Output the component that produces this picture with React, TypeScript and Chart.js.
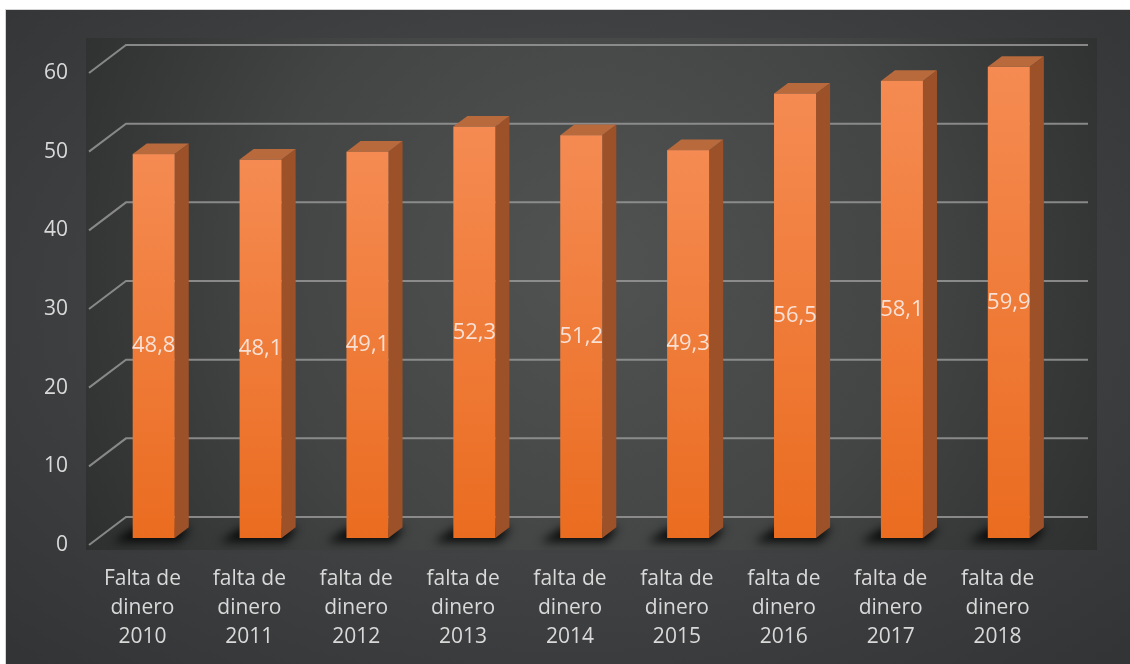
import React, { useEffect, useRef } from "react";
import { Chart, registerables } from "chart.js";

Chart.register(...registerables);

const categories: string[][] = [
  ["Falta de", "dinero", "2010"],
  ["falta de", "dinero", "2011"],
  ["falta de", "dinero", "2012"],
  ["falta de", "dinero", "2013"],
  ["falta de", "dinero", "2014"],
  ["falta de", "dinero", "2015"],
  ["falta de", "dinero", "2016"],
  ["falta de", "dinero", "2017"],
  ["falta de", "dinero", "2018"],
];
const values: number[] = [48.8, 48.1, 49.1, 52.3, 51.2, 49.3, 56.5, 58.1, 59.9];
const yTicks: number[] = [0, 10, 20, 30, 40, 50, 60];

const FONT = "'Open Sans', 'Noto Sans', sans-serif";
const DEPTH_X = 37;
const DEPTH_Y = -28;
const BAR_START = 0.25;
const BAR_DEPTH = 0.38;
const BAR_SHIFT_X = 2;

const threeD = {
  id: "threeD",
  beforeDatasetsDraw(chart: any) {
    const { ctx, chartArea } = chart;
    const y = chart.scales.y;
    const { left, right, top, bottom } = chartArea;
    ctx.save();
    // back panel
    const px0 = left - 3, py0 = top - 35, px1 = right + 46, py1 = bottom + 5;
    const cx = (px0 + px1) / 2, cy = (py0 + py1) / 2 - 30;
    const g = ctx.createRadialGradient(cx, cy, 20, cx, cy, (px1 - px0) * 0.62);
    g.addColorStop(0, "#505252");
    g.addColorStop(0.5, "#434545");
    g.addColorStop(1, "#2a2b2b");
    ctx.fillStyle = g;
    ctx.fillRect(px0, py0, px1 - px0, py1 - py0);

    // gridlines
    ctx.strokeStyle = "rgba(150,150,150,0.85)";
    ctx.lineWidth = 2;
    yTicks.forEach((v) => {
      const yf = y.getPixelForValue(v);
      ctx.beginPath();
      ctx.moveTo(left, yf);
      ctx.lineTo(left + DEPTH_X, yf + DEPTH_Y);
      ctx.lineTo(right + DEPTH_X, yf + DEPTH_Y);
      ctx.stroke();
    });

    // floor shadows
    const meta = chart.getDatasetMeta(0);
    const sx = DEPTH_X * BAR_START + BAR_SHIFT_X, sy = DEPTH_Y * BAR_START;
    const bx = DEPTH_X * BAR_DEPTH, by = DEPTH_Y * BAR_DEPTH;
    ctx.filter = "blur(5px)";
    ctx.fillStyle = "rgba(0,0,0,0.85)";
    meta.data.forEach((el: any) => {
      const p = el.getProps(["x", "base", "width"], true);
      const fl = p.x - p.width / 2 + sx;
      const fr = p.x + p.width / 2 + sx;
      const fb = p.base + sy;
      ctx.beginPath();
      ctx.moveTo(fl - 20, fb + 4);
      ctx.lineTo(fr + 4, fb + 4);
      ctx.lineTo(fr + bx + 2, fb + by);
      ctx.lineTo(fl + bx - 12, fb + by);
      ctx.closePath();
      ctx.fill();
    });
    ctx.filter = "none";
    ctx.restore();
  },
  afterDatasetsDraw(chart: any) {
    const { ctx } = chart;
    const meta = chart.getDatasetMeta(0);
    const sx = DEPTH_X * BAR_START + BAR_SHIFT_X, sy = DEPTH_Y * BAR_START;
    const bx = DEPTH_X * BAR_DEPTH, by = DEPTH_Y * BAR_DEPTH;
    ctx.save();
    meta.data.forEach((el: any, i: number) => {
      const p = el.getProps(["x", "y", "base", "width"], true);
      const fl = p.x - p.width / 2 + sx;
      const fr = p.x + p.width / 2 + sx;
      const ft = p.y + sy;
      const fb = p.base + sy;
      // side face
      ctx.fillStyle = "#9c5129";
      ctx.beginPath();
      ctx.moveTo(fr, ft);
      ctx.lineTo(fr + bx, ft + by);
      ctx.lineTo(fr + bx, fb + by);
      ctx.lineTo(fr, fb);
      ctx.closePath();
      ctx.fill();
      // top face
      ctx.fillStyle = "#b86a3c";
      ctx.beginPath();
      ctx.moveTo(fl, ft);
      ctx.lineTo(fl + bx, ft + by);
      ctx.lineTo(fr + bx, ft + by);
      ctx.lineTo(fr, ft);
      ctx.closePath();
      ctx.fill();
      // front face
      const g = ctx.createLinearGradient(0, ft, 0, fb);
      g.addColorStop(0, "#f58b52");
      g.addColorStop(1, "#ea6c20");
      ctx.fillStyle = g;
      ctx.fillRect(fl, ft, fr - fl, fb - ft);
      // label
      ctx.fillStyle = "rgba(248,232,226,0.92)";
      ctx.font = `22px ${FONT}`;
      ctx.textAlign = "center";
      ctx.textBaseline = "middle";
      ctx.fillText(values[i].toFixed(1).replace(".", ","), (fl + fr) / 2, (ft + fb) / 2);
    });
    ctx.restore();
  },
};

function BarChart() {
  const ref = useRef<HTMLCanvasElement | null>(null);
  useEffect(() => {
    if (!ref.current) return;
    const chart = new Chart(ref.current, {
      type: "bar",
      data: {
        labels: categories,
        datasets: [
          {
            data: values,
            backgroundColor: "rgba(0,0,0,0)",
            borderWidth: 0,
            barPercentage: 0.393,
            categoryPercentage: 1,
          },
        ],
      },
      options: {
        responsive: false,
        animation: false,
        layout: { padding: { left: 0, right: 79, top: 73, bottom: 0 } },
        plugins: { legend: { display: false }, tooltip: { enabled: false } },
        scales: {
          x: {
            grid: { display: false, drawTicks: false },
            border: { display: false },
            ticks: {
              color: "#d9d9d9",
              font: { family: FONT, size: 21, lineHeight: 1.4 },
              padding: 19,
              maxRotation: 0,
              autoSkip: false,
            },
            afterFit: (s: any) => {
              s.height = 119;
            },
          },
          y: {
            min: 0,
            max: 60,
            grid: { display: false, drawTicks: false },
            border: { display: false },
            ticks: {
              stepSize: 10,
              color: "#d9d9d9",
              font: { family: FONT, size: 21 },
              padding: 21,
            },
            afterFit: (s: any) => {
              s.width = 89;
            },
          },
        },
      },
      plugins: [threeD],
    });
    return () => chart.destroy();
  }, []);
  return (
    <canvas
      ref={ref}
      width={1130}
      height={664}
      style={{ position: "absolute", left: 0, top: 0, width: 1130, height: 664 }}
    />
  );
}

export default function App() {
  return (
    <div style={{ position: "fixed", left: 0, top: 0, width: 1130, height: 664, background: "#ffffff", overflow: "hidden" }}>
      <div
        style={{
          position: "absolute",
          left: 5,
          top: 9,
          width: 1125,
          height: 655,
          borderTop: "1px solid #d4d4d4",
          borderLeft: "1px solid #d4d4d4",
          boxSizing: "border-box",
          background: "radial-gradient(ellipse 70% 75% at 50% 45%, #4c4d4e 0%, #434445 45%, #333435 100%)",
        }}
      />
      <BarChart />
    </div>
  );
}
